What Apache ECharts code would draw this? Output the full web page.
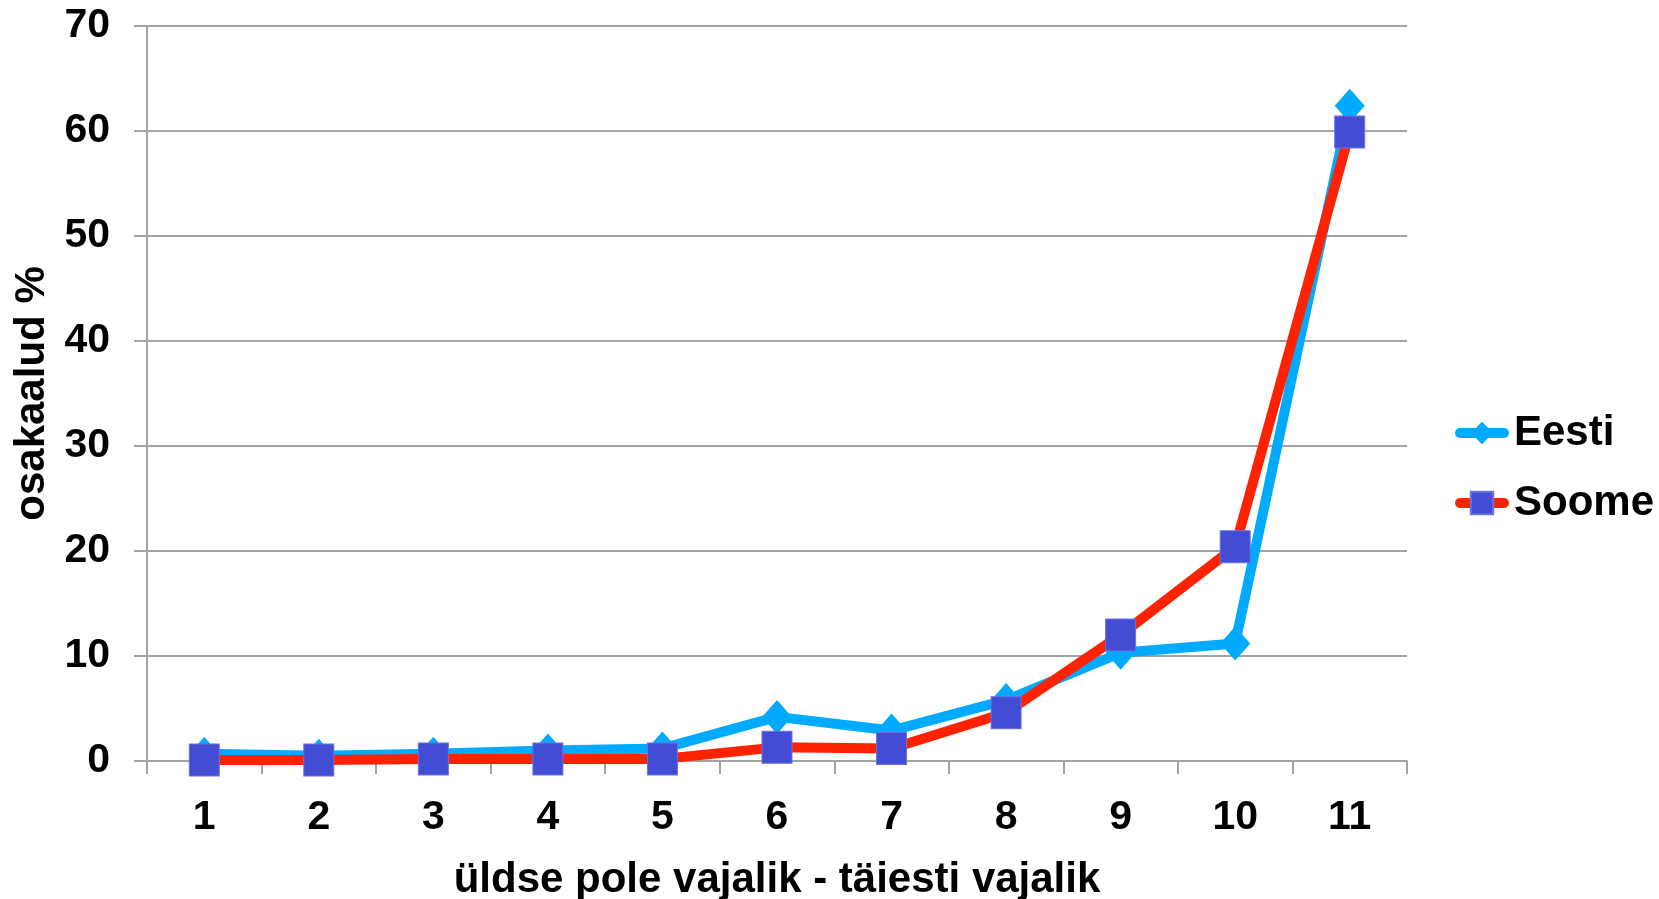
<!DOCTYPE html>
<html>
<head>
<meta charset="utf-8">
<script src="https://cdn.jsdelivr.net/npm/echarts@6/dist/echarts.min.js"></script>
<style>
html,body{margin:0;padding:0;background:#fff;}
#chart{width:1659px;height:899px;}
</style>
</head>
<body>
<div id="chart"></div>
<script>
const categories = ['1','2','3','4','5','6','7','8','9','10','11'];
const eesti = [0.7, 0.5, 0.7, 1.0, 1.2, 4.2, 2.9, 5.8, 10.3, 11.2, 62.4];
const soome = [0.1, 0.1, 0.2, 0.2, 0.2, 1.3, 1.2, 4.6, 12.0, 20.4, 59.9];
const seriesNames = ['Eesti', 'Soome'];
const xTitle = 'üldse pole vajalik - täiesti vajalik';
const yTitle = 'osakaalud %';

const FONT = '"Liberation Sans", Arial, sans-serif';
const GRAY = '#a3a3a3';
const chart = echarts.init(document.getElementById('chart'), null, {renderer: 'canvas'});
chart.setOption({
  animation: false,
  backgroundColor: '#ffffff',
  grid: {left: 147, right: 252, top: 26, bottom: 138, containLabel: false, outerBoundsMode: 'none'},
  legend: {
    orient: 'vertical',
    left: 1450,
    top: 407,
    itemWidth: 44,
    itemHeight: 28,
    itemGap: 28,
    lineStyle: {width: 10, cap: 'round'},
    textStyle: {fontFamily: FONT, fontWeight: 'bold', fontSize: 42, color: '#000', padding: [0,0,0,5]},
    data: seriesNames
  },
  xAxis: {
    type: 'category',
    data: categories,
    boundaryGap: true,
    name: xTitle,
    nameLocation: 'middle',
    nameGap: 98,
    nameTextStyle: {fontFamily: FONT, fontWeight: 'bold', fontSize: 42, color: '#000'},
    axisLine: {show: true, lineStyle: {color: GRAY, width: 2}},
    axisTick: {show: true, alignWithLabel: false, length: 13, lineStyle: {color: GRAY, width: 2}},
    axisLabel: {fontFamily: FONT, fontWeight: 'bold', fontSize: 41, color: '#000', margin: 36},
    splitLine: {show: false}
  },
  yAxis: {
    type: 'value',
    min: 0, max: 70, interval: 10,
    name: yTitle,
    nameLocation: 'middle',
    nameGap: 82,
    nameRotate: 90,
    nameTextStyle: {fontFamily: FONT, fontWeight: 'bold', fontSize: 42, color: '#000'},
    axisLine: {show: true, lineStyle: {color: GRAY, width: 2}},
    axisTick: {show: true, length: 13, lineStyle: {color: GRAY, width: 2}},
    axisLabel: {fontFamily: FONT, fontWeight: 'bold', fontSize: 41, color: '#000', margin: 37},
    splitLine: {show: true, lineStyle: {color: GRAY, width: 2}}
  },
  series: [
    {
      name: seriesNames[0],
      type: 'line',
      data: eesti,
      symbol: 'diamond',
      symbolSize: [30, 34],
      lineStyle: {color: '#00aaff', width: 10},
      itemStyle: {color: '#00aaff'}
    },
    {
      name: seriesNames[1],
      type: 'line',
      data: soome,
      symbol: 'rect',
      symbolSize: [30, 32],
      lineStyle: {color: '#ff2200', width: 10},
      itemStyle: {color: '#434dd4', borderColor: '#6a72e0', borderWidth: 1}
    }
  ]
});
</script>
</body>
</html>
